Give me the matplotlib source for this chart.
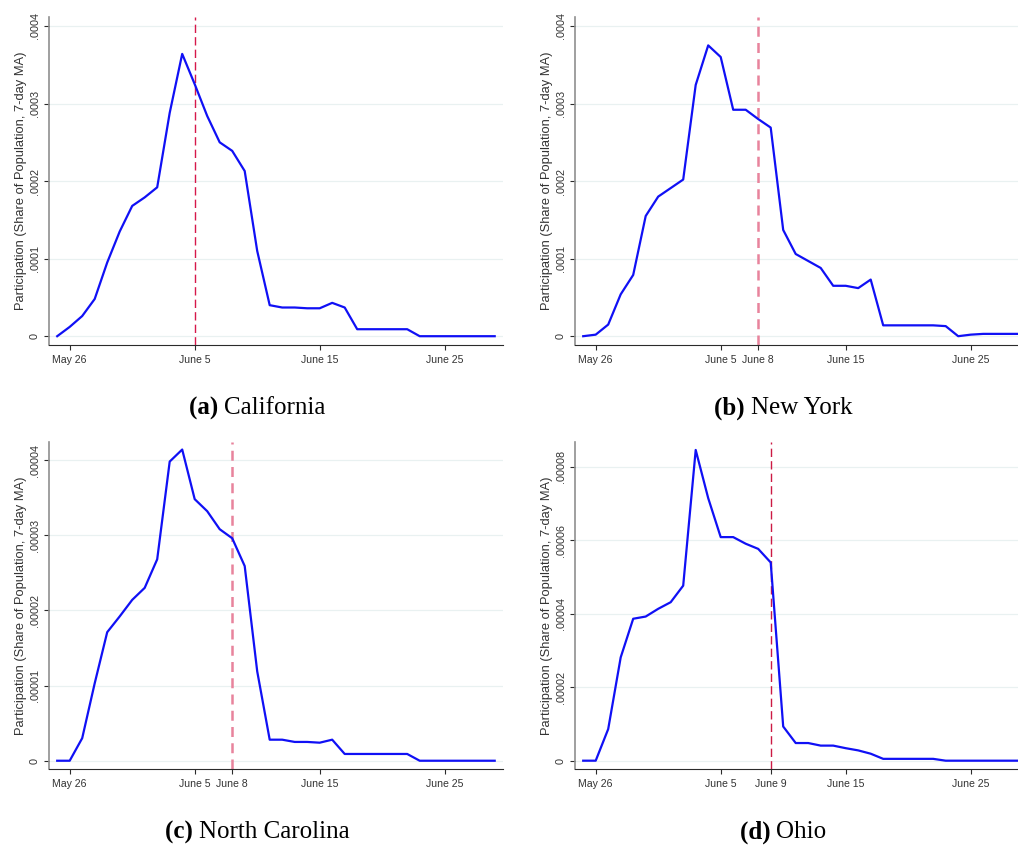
import numpy as np
import matplotlib
matplotlib.use("Agg")
import matplotlib.pyplot as plt
from matplotlib.ticker import FixedLocator, FixedFormatter

# days counted from May 26 (May 25 .. June 29)
days = np.arange(-1, 35)

# participation, 7-day MA (share of population)
california = np.array([0, 0.12, 0.26, 0.48, 0.95, 1.35, 1.68, 1.79, 1.92, 2.88,
                       3.64, 3.25, 2.84, 2.50, 2.39, 2.13, 1.10, 0.40, 0.37, 0.37,
                       0.36, 0.36, 0.43, 0.37, 0.09, 0.09, 0.09, 0.09, 0.09, 0.0,
                       0, 0, 0, 0, 0, 0]) * 1e-4
new_york = np.array([0, 0.02, 0.15, 0.54, 0.79, 1.55, 1.80, 1.91, 2.02, 3.24,
                     3.75, 3.60, 2.92, 2.92, 2.80, 2.69, 1.37, 1.06, 0.97, 0.88,
                     0.65, 0.65, 0.62, 0.73, 0.14, 0.14, 0.14, 0.14, 0.14, 0.13,
                     0.0, 0.02, 0.03, 0.03, 0.03, 0.03]) * 1e-4
north_carolina = np.array([0, 0, 0.30, 1.03, 1.71, 1.92, 2.14, 2.30, 2.68, 3.98,
                           4.14, 3.48, 3.32, 3.08, 2.96, 2.59, 1.19, 0.28, 0.28, 0.25,
                           0.25, 0.24, 0.28, 0.09, 0.09, 0.09, 0.09, 0.09, 0.09, 0.0,
                           0, 0, 0, 0, 0, 0]) * 1e-5
ohio = np.array([0, 0, 0.86, 2.81, 3.86, 3.92, 4.13, 4.31, 4.76, 8.45,
                 7.14, 6.08, 6.08, 5.90, 5.76, 5.39, 0.93, 0.48, 0.48, 0.41,
                 0.41, 0.34, 0.28, 0.19, 0.05, 0.05, 0.05, 0.05, 0.05, 0.0,
                 0, 0, 0, 0, 0, 0]) * 1e-5

# reference day (vertical dashed line), days from May 26
event_day = [10, 13, 13, 14]
event_label = ["June 5", "June 8", "June 8", "June 9"]

base_ticks = [0, 10, 20, 30]
base_labels = ["May 26", "June 5", "June 15", "June 25"]

yticks_top = [0, 0.0001, 0.0002, 0.0003, 0.0004]
ylabels_top = ["0", ".0001", ".0002", ".0003", ".0004"]
yticks_nc = [0, 0.00001, 0.00002, 0.00003, 0.00004]
ylabels_nc = ["0", ".00001", ".00002", ".00003", ".00004"]
yticks_oh = [0, 0.00002, 0.00004, 0.00006, 0.00008]
ylabels_oh = ["0", ".00002", ".00004", ".00006", ".00008"]

letters = ["(a)", "(b)", "(c)", "(d)"]
states = ["California", "New York", "North Carolina", "Ohio"]

W, H = 1018, 846
fig = plt.figure(figsize=(W / 100, H / 100), dpi=100)
fig.patch.set_facecolor("white")

def px(x0, y_top, w, h):
    return [x0 / W, 1 - (y_top + h) / H, w / W, h / H]

aw, ah = 453.7, 327.5
boxes = [px(49, 17, aw, ah), px(575, 17, aw, ah),
         px(49, 441.5, aw, ah), px(575, 441.5, aw, ah)]
series = [california, new_york, north_carolina, ohio]
ylims = [(-0.0000107, 0.0004116), (-0.0000107, 0.0004116),
         (-0.0000011, 0.00004247), (-0.00000226, 0.0000868)]
yt = [(yticks_top, ylabels_top), (yticks_top, ylabels_top),
      (yticks_nc, ylabels_nc), (yticks_oh, ylabels_oh)]
vstyle = [dict(color="#d6184a", lw=1.0, dashes=(6, 3)),
          dict(color="#e8839c", lw=1.8, dashes=(4, 2.5)),
          dict(color="#e8839c", lw=1.8, dashes=(4, 2.5)),
          dict(color="#cc1a44", lw=1.0, dashes=(6, 3))]

txt = "#333333"
for i in range(4):
    ax = fig.add_axes(boxes[i])
    ax.set_xlim(-1.656, -1.656 + aw / 12.5)
    ax.set_ylim(*ylims[i])
    ticks, labels = yt[i]
    ax.yaxis.set_major_locator(FixedLocator(ticks))
    ax.yaxis.set_major_formatter(FixedFormatter(labels))
    ax.grid(axis="y", color="#e9f1f1", lw=0.9)
    ax.set_axisbelow(True)

    xt = base_ticks + [event_day[i]]
    xl = base_labels + [event_label[i]]
    if event_day[i] == 10:
        xt, xl = base_ticks, base_labels
    order = np.argsort(xt)
    ax.set_xticks([xt[k] for k in order])
    ax.set_xticklabels([xl[k] for k in order])

    ax.axvline(event_day[i], **vstyle[i], zorder=2)
    ax.plot(days, series[i], color="#1010f5", lw=1.6, zorder=3)

    for s in ["top", "right"]:
        ax.spines[s].set_visible(False)
    ax.spines["left"].set_color("#8f8f8f")
    ax.spines["left"].set_linewidth(1.2)
    ax.spines["bottom"].set_color("#2b2b2b")
    ax.spines["bottom"].set_linewidth(0.8)
    ax.tick_params(axis="x", length=3.5, width=0.8, color="#2b2b2b",
                   labelsize=7.6, labelcolor=txt, pad=4)
    ax.tick_params(axis="y", length=3.5, width=0.8, color="#2b2b2b",
                   labelsize=7.8, labelcolor=txt, pad=3)
    for lab in ax.get_yticklabels():
        lab.set_rotation(90)
        lab.set_va("center")
    for lab in ax.get_xticklabels() + ax.get_yticklabels():
        lab.set_fontfamily("Liberation Sans")
    ax.set_ylabel("Participation (Share of Population, 7-day MA)",
                  fontsize=9.3, color=txt, family="Liberation Sans")
    ax.yaxis.set_label_coords(-0.062, 0.5)
    ax.yaxis.label.set_va("center")

# captions: bold letter + regular state name
renderer = fig.canvas.get_renderer()
centers = [(257, 408), (783, 408), (257, 832), (783, 832)]
for i in range(4):
    cx, cy = centers[i]
    t1 = fig.text(0, 0, letters[i] + " ", fontsize=18, fontweight="bold",
                  family="Liberation Serif")
    t2 = fig.text(0, 0, states[i], fontsize=18, family="Liberation Serif")
    w1 = t1.get_window_extent(renderer).width
    w2 = t2.get_window_extent(renderer).width
    x0 = cx - (w1 + w2) / 2
    t1.set_position((x0 / W, 1 - cy / H))
    t1.set_va("center")
    t2.set_position(((x0 + w1) / W, 1 - cy / H))
    t2.set_va("center")

fig.savefig("out.png", dpi=100)
